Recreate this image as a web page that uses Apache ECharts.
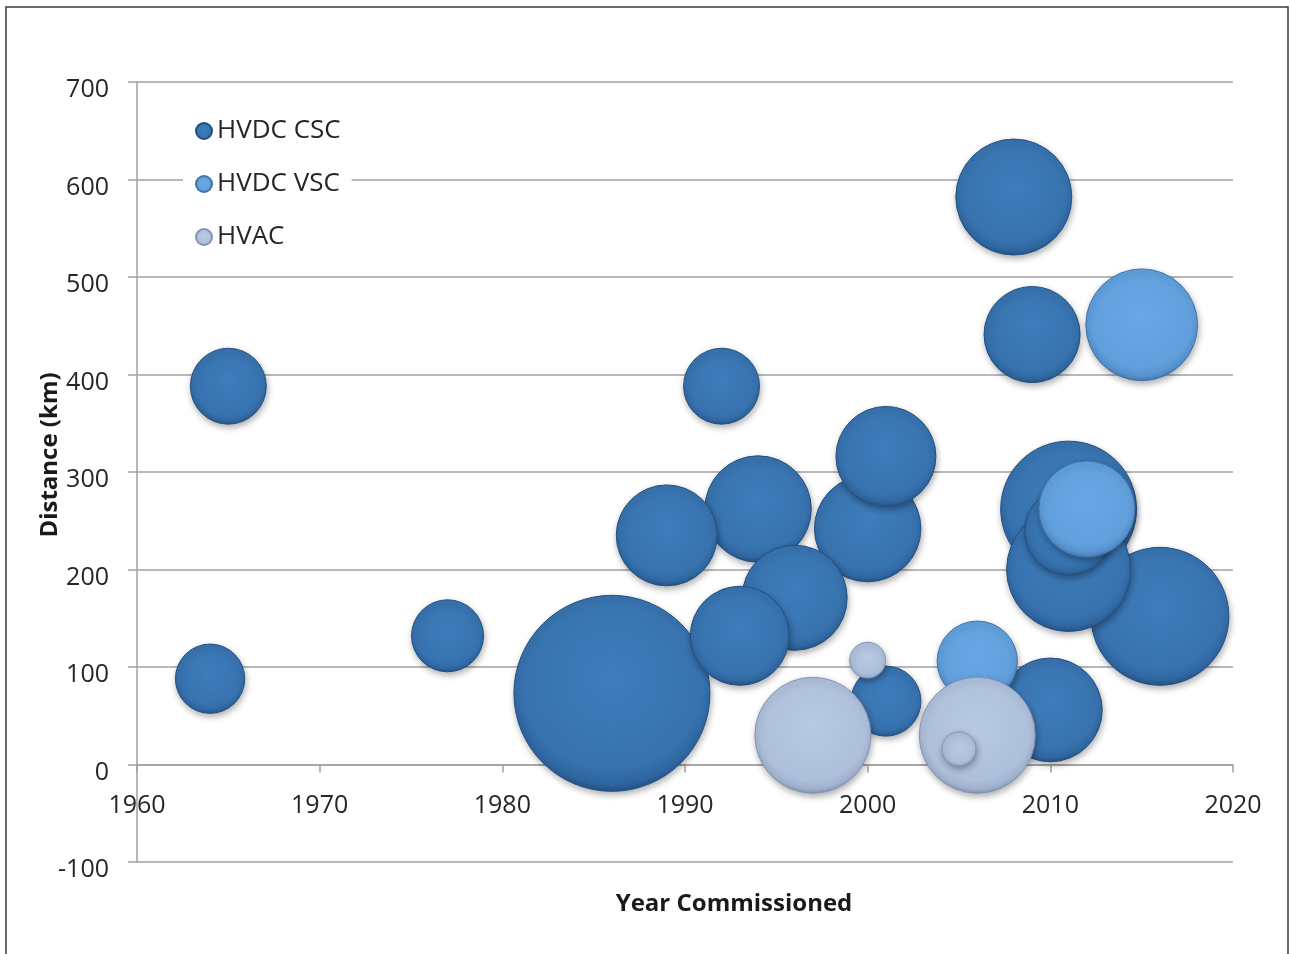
<!DOCTYPE html>
<html>
<head>
<meta charset="utf-8">
<title>Year Commissioned vs Distance</title>
<script src="https://cdn.jsdelivr.net/npm/echarts@6/dist/echarts.min.js"></script>
<style>
  html, body { margin: 0; padding: 0; background: #fff; }
  #main { width: 1290px; height: 954px; }
</style>
</head>
<body>
<div id="main"></div>
<script>
// HVDC CSC links: year, distance (km), capacity (MW -> bubble size)
var cscYear = [1964, 1965, 1977, 1986, 1989, 1992, 1993, 1994, 1996, 2000, 2001, 2001, 2008, 2009, 2010, 2011, 2011, 2011, 2016];
var cscDist = [88, 388, 132, 73, 235, 388, 132, 262, 171, 242, 316, 65, 582, 441, 56, 262, 200, 239, 152];
var cscMW   = [250, 300, 270, 2000, 530, 300, 510, 590, 575, 590, 520, 255, 700, 480, 560, 960, 800, 400, 990];

// HVDC VSC links
var vscYear = [2006, 2012, 2015];
var vscDist = [106, 262, 451];
var vscMW   = [335, 480, 650];

// HVAC links
var hvacYear = [1997, 2000, 2005, 2006];
var hvacDist = [30, 107, 16, 30];
var hvacMW   = [700, 67, 60, 700];

var seriesNames = ['HVDC CSC', 'HVDC VSC', 'HVAC'];
var xTicks = { min: 1960, max: 2020, step: 10 };
var yTicks = { min: -100, max: 700, step: 100 };

var FONT = '"Open Sans", "Liberation Sans", sans-serif';

// bigger bubbles first so smaller ones sit on top (like Excel)
function points(years, dist, mw) {
  var out = [];
  for (var i = 0; i < years.length; i++) out.push([years[i], dist[i], mw[i]]);
  out.sort(function (a, b) { return b[2] - a[2]; });
  return out;
}

function bubbleSize(v) {
  return 196 * Math.sqrt(v[2] / 2000);
}

function shade(c0, c1, c2, c3) {
  return {
    type: 'radial', x: 0.5, y: 0.42, r: 0.58,
    colorStops: [
      { offset: 0, color: c0 },
      { offset: 0.8, color: c1 },
      { offset: 0.93, color: c2 },
      { offset: 1, color: c3 }
    ]
  };
}

function bubbles(name, data, fill, border) {
  return {
    name: name,
    type: 'scatter',
    data: data,
    symbolSize: bubbleSize,
    itemStyle: {
      color: fill,
      borderColor: border,
      borderWidth: 1,
      opacity: 1,
      shadowBlur: 6,
      shadowOffsetY: 3,
      shadowOffsetX: 1,
      shadowColor: 'rgba(0,0,0,0.3)'
    },
    emphasis: { disabled: true }
  };
}

var gridTop = 82, gridBottom = 92, gridH = 954 - gridTop - gridBottom;
// pull the x axis up so it sits on the zero line
var zeroOffset = -gridH * (0 - yTicks.min) / (yTicks.max - yTicks.min);

var chart = echarts.init(document.getElementById('main'));

chart.setOption({
  backgroundColor: '#fff',
  animation: false,
  grid: { left: 137, right: 57, top: gridTop, bottom: gridBottom },
  legend: {
    data: seriesNames,
    orient: 'vertical',
    left: 183,
    top: 110,
    padding: [8, 11, 8, 12],
    backgroundColor: '#fff',
    itemWidth: 16,
    itemHeight: 16,
    itemGap: 27,
    icon: 'circle',
    textStyle: { fontFamily: FONT, fontSize: 26, color: '#262626', lineHeight: 26 }
  },
  xAxis: {
    type: 'value',
    min: xTicks.min,
    max: xTicks.max,
    interval: xTicks.step,
    offset: zeroOffset,
    axisLine: { onZero: false, lineStyle: { color: '#a0a0a0', width: 1.5 } },
    axisTick: { show: true, length: 8, lineStyle: { color: '#a0a0a0', width: 1.5 } },
    axisLabel: { margin: 29, fontFamily: FONT, fontSize: 25, color: '#262626',
                 formatter: function (v) { return String(v); } },
    splitLine: { show: false }
  },
  yAxis: {
    type: 'value',
    min: yTicks.min,
    max: yTicks.max,
    interval: yTicks.step,
    axisLine: { show: true, lineStyle: { color: '#a0a0a0', width: 1.5 } },
    axisTick: { show: true, length: 9, lineStyle: { color: '#a0a0a0', width: 1.5 } },
    axisLabel: { margin: 28, fontFamily: FONT, fontSize: 25, color: '#262626',
                 verticalAlign: 'top', lineHeight: 16 },
    splitLine: { show: true, lineStyle: { color: '#a0a0a0', width: 1.5 } }
  },
  graphic: [
    {
      type: 'rect', silent: true, z: -1,
      shape: { x: 6, y: 7, width: 1282, height: 1000 },
      style: { fill: null, stroke: '#3a3a3a', lineWidth: 1.5 }
    },
    {
      type: 'text', x: 734, y: 904,
      style: { text: 'Year Commissioned', align: 'center', verticalAlign: 'middle',
               font: 'bold 24px ' + FONT, fill: '#1a1a1a' }
    },
    {
      type: 'text', x: 50, y: 455, rotation: Math.PI / 2,
      style: { text: 'Distance (km)', align: 'center', verticalAlign: 'middle',
               font: 'bold 24px ' + FONT, fill: '#1a1a1a' }
    }
  ],
  series: [
    bubbles(seriesNames[0], points(cscYear, cscDist, cscMW),
      shade('#3e7dbb', '#3772ae', '#2f659f', '#245285'), '#22507f'),
    bubbles(seriesNames[1], points(vscYear, vscDist, vscMW),
      shade('#69a8e4', '#609fdc', '#5590cc', '#4478ae'), '#4173a8'),
    bubbles(seriesNames[2], points(hvacYear, hvacDist, hvacMW),
      shade('#b7c9e3', '#aebfdb', '#9fb1ce', '#8496b5'), '#8294b3')
  ]
});
</script>
</body>
</html>
